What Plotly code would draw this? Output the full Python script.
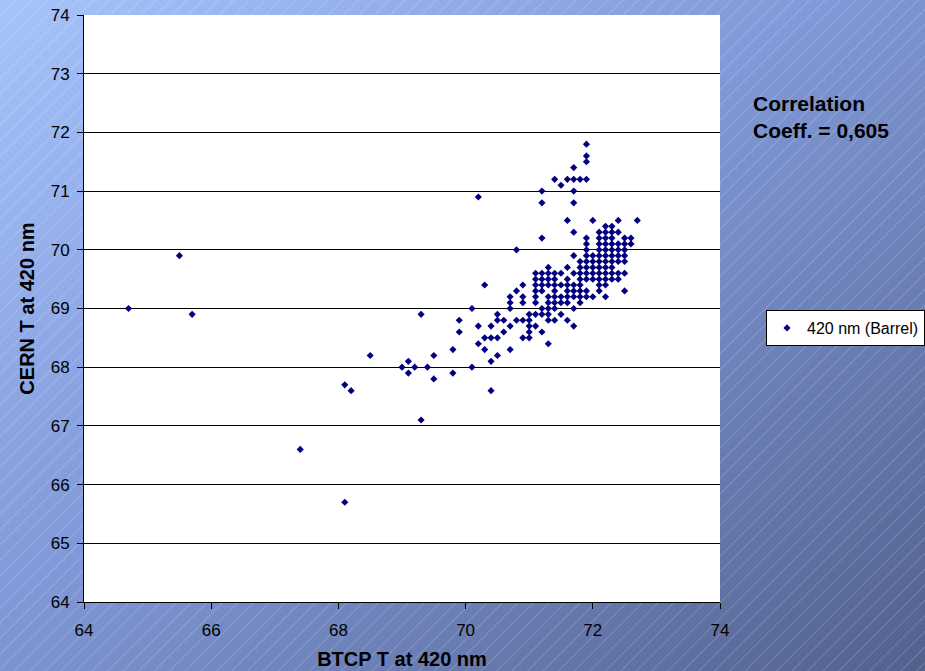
import base64
import plotly.graph_objects as go

# CERN T values (rows) and the BTCP T values measured at each row
cern_levels = [71.8, 71.6, 71.5, 71.4, 71.2, 71.1, 71.0, 70.9, 70.8, 70.5, 70.4, 70.3,
               70.2, 70.1, 70.0, 69.9, 69.8, 69.7, 69.6, 69.5, 69.4, 69.3, 69.2, 69.1,
               69.0, 68.9, 68.8, 68.7, 68.6, 68.5, 68.4, 68.3, 68.2, 68.1, 68.0, 67.9,
               67.8, 67.7, 67.6, 67.1, 66.6, 65.7]
btcp_at_level = [
    [71.9],
    [71.9],
    [71.9],
    [71.7],
    [71.4, 71.6, 71.7, 71.8, 71.9],
    [71.5],
    [71.2, 71.7],
    [70.2],
    [71.2, 71.7],
    [71.6, 72.0, 72.4, 72.7],
    [72.2, 72.3],
    [71.7, 72.1, 72.2, 72.3, 72.4],
    [71.2, 71.9, 72.1, 72.2, 72.3, 72.5, 72.6],
    [71.9, 72.1, 72.2, 72.3, 72.4, 72.5, 72.6],
    [70.8, 71.9, 72.1, 72.2, 72.3, 72.4, 72.5],
    [65.5, 71.7, 71.9, 72.0, 72.1, 72.2, 72.3, 72.4, 72.5],
    [71.8, 71.9, 72.0, 72.1, 72.2, 72.3, 72.4, 72.5],
    [71.3, 71.6, 71.8, 71.9, 72.0, 72.1, 72.2, 72.3],
    [71.1, 71.2, 71.3, 71.4, 71.5, 71.7, 71.8, 71.9, 72.0, 72.1, 72.2, 72.3, 72.4, 72.5],
    [71.1, 71.2, 71.3, 71.4, 71.6, 71.8, 71.9, 72.0, 72.1, 72.2, 72.3, 72.4],
    [70.3, 70.9, 71.1, 71.2, 71.3, 71.4, 71.5, 71.6, 71.7, 71.8, 72.1, 72.2],
    [70.8, 71.1, 71.2, 71.4, 71.6, 71.7, 71.8, 71.9, 72.1, 72.5],
    [70.7, 70.9, 71.1, 71.3, 71.4, 71.5, 71.6, 71.7, 71.8, 71.9, 72.0, 72.2],
    [70.7, 70.9, 71.1, 71.3, 71.4, 71.5, 71.6, 71.8],
    [64.7, 70.1, 70.7, 71.2, 71.3, 71.4, 71.7],
    [65.7, 69.3, 70.5, 71.0, 71.1, 71.2, 71.3, 71.5],
    [69.9, 70.5, 70.6, 70.8, 70.9, 71.0, 71.3, 71.4, 71.6],
    [70.2, 70.4, 70.7, 71.0, 71.1, 71.7],
    [69.9, 70.6, 71.0, 71.2],
    [70.3, 70.4, 70.5, 70.9, 71.0],
    [70.2, 71.3],
    [69.8, 70.3, 70.7],
    [68.5, 69.5, 70.5],
    [69.1, 70.4],
    [69.0, 69.2, 69.4, 70.1],
    [69.1, 69.8],
    [69.5],
    [68.1],
    [68.2, 70.4],
    [69.3],
    [67.4],
    [68.1],
]

x_ticks = [64, 66, 68, 70, 72, 74]
y_ticks = [64, 65, 66, 67, 68, 69, 70, 71, 72, 73, 74]
series_name = "420 nm (Barrel)"
x_title = "BTCP T at 420 nm"
y_title = "CERN T at 420 nm"
note_text = "Correlation<br>Coeff. = 0,605"

btcp = []
cern = []
for level, xs in zip(cern_levels, btcp_at_level):
    for xv in xs:
        btcp.append(xv)
        cern.append(level)

# Background: diagonal gradient with thin white stripes
svg = """<svg xmlns='http://www.w3.org/2000/svg' width='925' height='671' viewBox='0 0 925 671'>
<defs>
<linearGradient id='g' x1='0' y1='0' x2='1' y2='1'>
<stop offset='0' stop-color='#a6c3fb'/>
<stop offset='0.45' stop-color='#8099d8'/>
<stop offset='1' stop-color='#52608c'/>
</linearGradient>
<pattern id='p' patternUnits='userSpaceOnUse' width='11' height='11' patternTransform='rotate(45)'>
<line x1='0' y1='0' x2='0' y2='11' stroke='white' stroke-width='1' stroke-opacity='0.35'/>
</pattern>
</defs>
<rect width='925' height='671' fill='url(#g)'/>
<rect width='925' height='671' fill='url(#p)'/>
</svg>"""
bg_src = "data:image/svg+xml;base64," + base64.b64encode(svg.encode()).decode()

W, H = 925, 671
ml, mr, mt, mb = 84, 205, 15, 69
pw, ph = W - ml - mr, H - mt - mb

fig = go.Figure()
fig.add_trace(go.Scatter(
    x=btcp, y=cern, mode="markers", name=series_name,
    marker=dict(symbol="diamond", size=5.5, color="#000080"),
    showlegend=True,
))

fig.update_layout(
    width=W, height=H,
    margin=dict(l=ml, r=mr, t=mt, b=mb, autoexpand=False),
    paper_bgcolor="#7f98d6",
    plot_bgcolor="white",
    font=dict(family="Liberation Sans, Arial, sans-serif", color="black"),
    images=[dict(source=bg_src, xref="paper", yref="paper",
                 x=-ml / pw, y=1 + mt / ph, sizex=W / pw, sizey=H / ph,
                 xanchor="left", yanchor="top", sizing="stretch", layer="below")],
    shapes=[dict(type="rect", xref="paper", yref="paper", x0=0, x1=1, y0=0, y1=1,
                 fillcolor="white", line=dict(width=0), layer="below")],
    xaxis=dict(range=[64, 74], tickvals=x_ticks, showgrid=False, zeroline=False,
               showline=True, linecolor="black", linewidth=1,
               ticks="outside", ticklen=6, tickcolor="black",
               tickfont=dict(size=17), ticklabelstandoff=7,
               title=dict(text="<b>" + x_title + "</b>", font=dict(size=20), standoff=12)),
    yaxis=dict(range=[64, 74], tickvals=y_ticks, showgrid=True, gridcolor="black", gridwidth=1,
               zeroline=False, showline=True, linecolor="black", linewidth=1,
               ticks="outside", ticklen=6, tickcolor="black",
               tickfont=dict(size=17), ticklabelstandoff=4,
               title=dict(text="<b>" + y_title + "</b>", font=dict(size=20), standoff=10)),
    legend=dict(x=(766 - ml) / pw, y=(602 - 328) / ph, xanchor="left", yanchor="middle",
                bgcolor="white", bordercolor="black", borderwidth=1,
                font=dict(size=16), itemwidth=30, tracegroupgap=0),
    annotations=[dict(text="<b>" + note_text + "</b>", xref="paper", yref="paper",
                      x=(751 - ml) / pw, y=(602 - 90) / ph, xanchor="left", yanchor="top",
                      align="left", showarrow=False, font=dict(size=21, color="black"))],
)

fig.write_html("out.html", config={"displayModeBar": False},
               post_script="document.body.style.margin='0';document.body.style.padding='0';")
